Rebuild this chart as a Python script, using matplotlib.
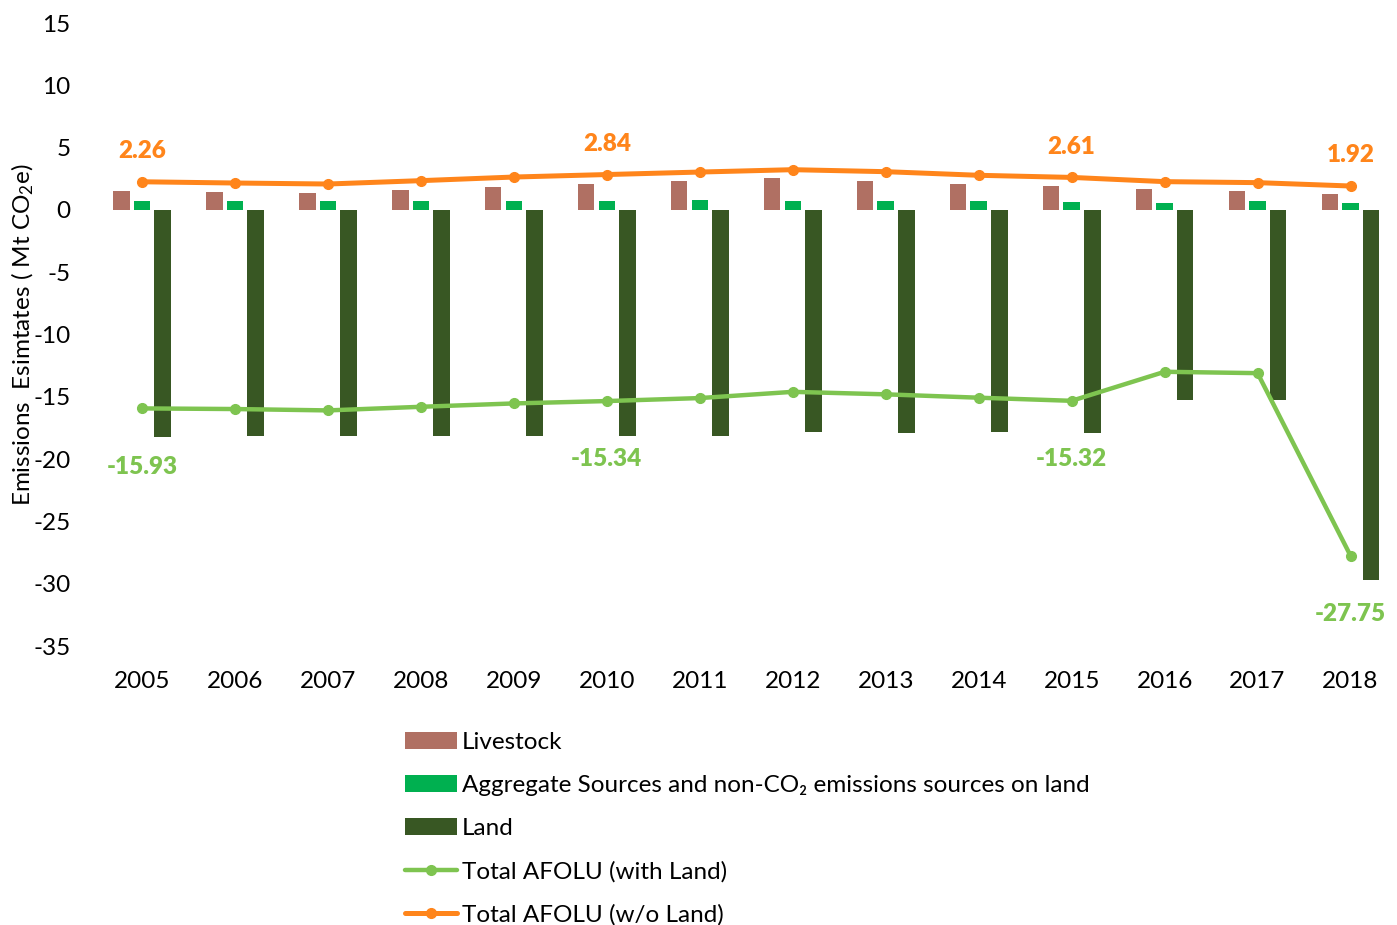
import matplotlib
matplotlib.use("Agg")
import matplotlib.pyplot as plt
import numpy as np

plt.rcParams['font.family'] = ['Lato', 'DejaVu Sans']
plt.rcParams['mathtext.fontset'] = 'custom'
plt.rcParams['mathtext.rm'] = 'Lato'
plt.rcParams['mathtext.it'] = 'Lato:italic'
plt.rcParams['axes.unicode_minus'] = False

years = ['2005', '2006', '2007', '2008', '2009', '2010', '2011',
         '2012', '2013', '2014', '2015', '2016', '2017', '2018']
livestock = [1.50, 1.44, 1.39, 1.63, 1.87, 2.09, 2.33,
             2.54, 2.33, 2.11, 1.90, 1.71, 1.50, 1.28]
aggregate = [0.72, 0.72, 0.70, 0.72, 0.72, 0.72, 0.78,
             0.72, 0.72, 0.70, 0.67, 0.56, 0.72, 0.56]
land = [-18.19, -18.14, -18.17, -18.15, -18.17, -18.18, -18.14,
        -17.83, -17.87, -17.85, -17.93, -15.26, -15.29, -29.67]
total_with_land = [-15.93, -15.98, -16.09, -15.80, -15.53, -15.34, -15.10,
                   -14.60, -14.80, -15.07, -15.32, -12.99, -13.10, -27.75]
total_wo_land = [2.26, 2.16, 2.08, 2.35, 2.64, 2.84, 3.04,
                 3.23, 3.07, 2.78, 2.61, 2.27, 2.19, 1.92]
labelled = ['2005', '2010', '2015', '2018']

c_live = '#B07063'
c_aggr = '#00B050'
c_land = '#385723'
c_with = '#7EC450'
c_wo = '#FF851B'

FS = 17.5

fig = plt.figure(figsize=(13.97, 9.25), dpi=100)
ax = fig.add_axes([0.0684, 0.3016, 0.9316, 0.6735])

x = np.arange(len(years))
w = 0.177
off = 0.222
h_live = ax.bar(x - off, livestock, w, color=c_live, label='Livestock')
h_aggr = ax.bar(x, aggregate, w, color=c_aggr,
                label='Aggregate Sources and non-CO\u2082 emissions sources on land')
h_land = ax.bar(x + off, land, w, color=c_land, label='Land')
h_with, = ax.plot(x, total_with_land, color=c_with, lw=3.2, marker='o', ms=7,
                  label='Total AFOLU (with Land)', solid_capstyle='round')
h_wo, = ax.plot(x, total_wo_land, color=c_wo, lw=3.6, marker='o', ms=7,
                label='Total AFOLU (w/o Land)', solid_capstyle='round')

for i, yr in enumerate(years):
    if yr in labelled:
        ax.annotate(f'{total_wo_land[i]:.2f}', (x[i], total_wo_land[i]),
                    xytext=(0, 22), textcoords='offset points',
                    ha='center', va='center', color=c_wo,
                    fontsize=FS, fontweight='heavy')
        ax.annotate(f'{total_with_land[i]:.2f}', (x[i], total_with_land[i]),
                    xytext=(0, -42), textcoords='offset points',
                    ha='center', va='center', color=c_with,
                    fontsize=FS, fontweight='heavy')

ax.set_xlim(-0.5, len(years) - 0.5)
ax.set_ylim(-35, 15)
ax.set_yticks(np.arange(-35, 16, 5))
ax.set_xticks(x)
ax.set_xticklabels(years)
ax.tick_params(axis='both', length=0, labelsize=FS)
ax.tick_params(axis='x', pad=18)
ax.tick_params(axis='y', pad=18)
for s in ax.spines.values():
    s.set_visible(False)

ax.set_ylabel('Emissions  Esimtates ( Mt CO$_2$e)', fontsize=FS)
ax.yaxis.set_label_coords(-0.046, 0.50)

handles = [h_live, h_aggr, h_land, h_with, h_wo]
labels = [h.get_label() for h in handles]
fig.legend(handles, labels, loc='upper left',
           bbox_to_anchor=(405 / 1397, 1 - 732 / 925),
           frameon=False, fontsize=FS, handlelength=2.15,
           handletextpad=0.2, labelspacing=0.9, borderpad=0,
           borderaxespad=0)

fig.savefig('out.png', dpi=100)
